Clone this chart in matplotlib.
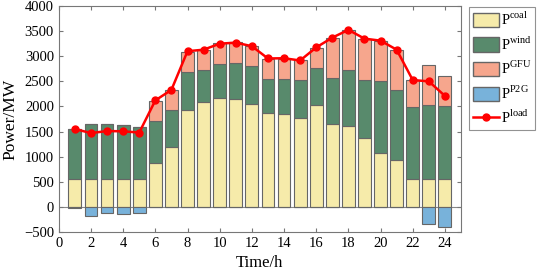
import matplotlib.pyplot as plt
from matplotlib.patches import Patch
from matplotlib.lines import Line2D

plt.rcParams['font.family'] = 'Liberation Serif'
plt.rcParams['mathtext.fontset'] = 'custom'
plt.rcParams['mathtext.rm'] = 'Liberation Serif'

hours = list(range(1, 25))
coal = [550, 550, 550, 550, 550, 880, 1190, 1930, 2090, 2160, 2150, 2050,
        1860, 1850, 1770, 2020, 1660, 1620, 1380, 1080, 930, 550, 550, 550]
wind = [1010, 1100, 1100, 1090, 1040, 830, 740, 760, 630, 680, 720, 750,
        690, 700, 750, 740, 910, 1100, 1150, 1430, 1400, 1440, 1480, 1460]
gfu = [0, 0, 0, 0, 0, 400, 400, 400, 410, 420, 410, 400,
       400, 400, 400, 410, 800, 800, 810, 800, 800, 535, 790, 590]
p2g = [-15, -180, -130, -135, -120, 0, 0, 0, 0, 0, 0, 0,
       0, 0, 0, 0, 0, 0, 0, 0, 0, 0, -335, -405]
load = [1550, 1470, 1510, 1505, 1480, 2120, 2330, 3100, 3130, 3250, 3270, 3200,
        2955, 2960, 2915, 3175, 3370, 3525, 3350, 3310, 3130, 2525, 2500, 2210]

c_coal = '#f6ebaa'
c_wind = '#588a6c'
c_gfu = '#f6a68d'
c_p2g = '#78b2da'
edge = '#666666'

fig = plt.figure(figsize=(5.4, 2.78), dpi=100)
ax = fig.add_axes([58.8 / 540, 1 - 232 / 278, (461 - 58.8) / 540, (232 - 6) / 278])

# stacked bars: coal, wind, GFU above zero, P2G below
w = 0.8
bottom2 = [c + wd for c, wd in zip(coal, wind)]
ax.axhline(0, color='#888888', lw=0.8, zorder=0)
ax.bar(hours, coal, w, color=c_coal, edgecolor=edge, lw=0.8)
ax.bar(hours, wind, w, bottom=coal, color=c_wind, edgecolor=edge, lw=0.8)
ax.bar(hours, gfu, w, bottom=bottom2, color=c_gfu, edgecolor=edge, lw=0.8)
ax.bar(hours, p2g, w, color=c_p2g, edgecolor=edge, lw=0.8)
ax.plot(hours, load, color='red', lw=1.8, marker='o', ms=5, zorder=5)

ax.set_xlim(0, 25)
ax.set_ylim(-500, 4000)
ax.set_xticks(range(0, 25, 2))
ax.set_yticks(range(-500, 4001, 500))
ax.tick_params(direction='in', top=True, right=True, labelsize=10.5,
               color='#777777', length=3)
for s in ax.spines.values():
    s.set_color('#777777')
ax.set_xlabel('Time/h', fontsize=12)
ax.set_ylabel('Power/MW', fontsize=12.5)

handles = [
    Patch(facecolor=c_coal, edgecolor=edge),
    Patch(facecolor=c_wind, edgecolor=edge),
    Patch(facecolor=c_gfu, edgecolor=edge),
    Patch(facecolor=c_p2g, edgecolor=edge),
    Line2D([], [], color='red', lw=1.8, marker='o', ms=5),
]
labels = [r'P$^{\rm coal}$', r'P$^{\rm wind}$', r'P$^{\rm GFU}$',
          r'P$^{\rm P2G}$', r'P$^{\rm load}$']
leg = fig.legend(handles, labels, loc='upper left',
                 bbox_to_anchor=(469 / 540, 1 - 7 / 278), borderaxespad=0,
                 fontsize=10.5, fancybox=False, edgecolor='#777777',
                 handlelength=1.8, handleheight=1.15, labelspacing=0.5,
                 handletextpad=0.15, borderpad=0.25)
leg.get_frame().set_linewidth(0.8)

fig.savefig('out.png', dpi=100)
